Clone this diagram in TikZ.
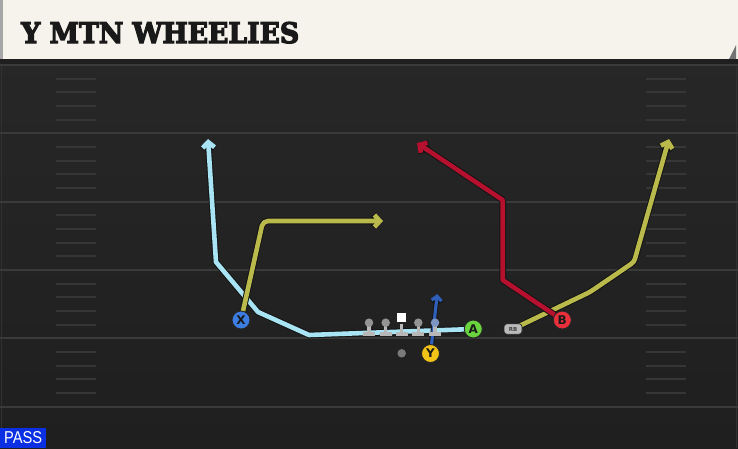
\documentclass[tikz,border=0pt]{standalone}
\usepackage{fontspec}
\setmainfont{Liberation Sans}
\newfontfamily\titlefont{DejaVu Serif}[BoldFeatures={FakeBold=4.5}]
\newfontfamily\plfont{DejaVu Sans}
\usetikzlibrary{arrows.meta}
\definecolor{bgtop}{HTML}{282828}
\definecolor{bgbot}{HTML}{1F1F1F}
\definecolor{banner}{HTML}{F5F3EC}
\definecolor{yardc}{HTML}{3A3A3A}
\definecolor{hashc}{HTML}{363636}
\definecolor{ltblue}{HTML}{A8E4F4}
\definecolor{olive}{HTML}{B9B94C}
\definecolor{crimson}{HTML}{B5102E}
\definecolor{dkblue}{HTML}{2F5FB8}
\definecolor{pblue}{HTML}{3B7DE0}
\definecolor{pgreen}{HTML}{6AD43F}
\definecolor{pyellow}{HTML}{F3C316}
\definecolor{pred}{HTML}{E8303A}
\definecolor{passblue}{HTML}{0B30E4}
\definecolor{bluehead}{HTML}{7D96C3}
\definecolor{edgec}{HTML}{313131}
\tikzset{
  yard/.style={draw=yardc, line width=2pt},
  hashm/.style={draw=hashc, line width=2pt},
  outl/.style={draw=black!92, line width=6.6pt, line join=round, line cap=round},
  routec/.style={draw=#1, line width=4.6pt, line join=round, line cap=round},
  tipped/.style={-{Straight Barb[length=5.5pt,width=12pt]}},
  player/.style={circle, minimum size=18pt, inner sep=0pt, draw=black!85, line width=0.9pt, fill=#1, font=\plfont\bfseries\fontsize{12}{12}\selectfont, text=black!90},
  linehead/.style={circle, minimum size=8.5pt, inner sep=0pt, fill=#1},
  linebar/.style={fill=black!28},
}
\begin{document}
\begin{tikzpicture}[x=1pt,y=-1pt]
\useasboundingbox (0,0) rectangle (738,448);
\shade[top color=bgtop, bottom color=bgbot] (0,0) rectangle (738,448);
% banner
\fill[banner] (0,0) rectangle (738,59);
\fill[black!35] (0,0) rectangle (3,59);
\fill[black!55] (729,59) -- (736,45) -- (736,59) -- cycle;
\fill[black!88] (0,59) rectangle (738,64);
\node[anchor=base west, inner sep=0pt] (title) at (21,43) {\resizebox{278pt}{21pt}{\titlefont\bfseries\color{black!90}Y MTN WHEELIES}};
% side edges
\draw[draw=edgec, line width=1pt] (1.5,64) -- (1.5,448);
\draw[draw=edgec, line width=1pt] (736.5,64) -- (736.5,448);
% yard lines
\foreach \y in {65,133.3,201.6,270,338.3,406.6}
  \draw[yard] (0,\y) -- (738,\y);
% hash marks
\foreach \b in {65,133.3,201.6,270,338.3}
  \foreach \k in {1,2,3,4} {
    \draw[hashm] (56,{\b+\k*13.66}) -- (96,{\b+\k*13.66});
    \draw[hashm] (646,{\b+\k*13.66}) -- (686,{\b+\k*13.66});
  }
% player anchors
\coordinate (pX) at (241,320);
\coordinate (pA) at (473.3,329);
\coordinate (pY) at (430.5,353.5);
\coordinate (pB) at (562.3,320);
\coordinate (pRB) at (513,329);
% route waypoints
\coordinate (a1) at (309,335);
\coordinate (a2) at (258,312);
\coordinate (a3) at (216,262);
\coordinate (a4) at (208,139);
\coordinate (x1) at (263,221);
\coordinate (x2) at (383,221);
\coordinate (b1) at (502.7,280);
\coordinate (b2) at (502.7,200);
\coordinate (b3) at (417,143);
\coordinate (r1) at (590,292);
\coordinate (r2) at (634,262);
\coordinate (r3) at (669,139);
\coordinate (y1) at (437.3,294);
% routes: outline then colour
\draw[outl, tipped] (pA) -- (a1) -- (a2) -- (a3) -- (a4);
\draw[routec=ltblue, tipped] (pA) -- (a1) -- (a2) -- (a3) -- (a4);
\draw[outl, tipped, rounded corners=5pt] (pX) -- (x1) -- (x2);
\draw[routec=olive, tipped, rounded corners=5pt] (pX) -- (x1) -- (x2);
\draw[outl, tipped, rounded corners=3pt] (pRB) -- (r1) -- (r2) -- (r3);
\draw[routec=olive, tipped, rounded corners=3pt] (pRB) -- (r1) -- (r2) -- (r3);
\draw[outl, tipped] (pB) -- (b1) -- (b2) -- (b3);
\draw[routec=crimson, tipped] (pB) -- (b1) -- (b2) -- (b3);
\draw[outl, line width=5pt, -{Straight Barb[length=4.5pt,width=10pt]}] (pY) -- (y1);
\draw[routec=dkblue, line width=3.2pt, -{Straight Barb[length=4.5pt,width=10pt]}] (pY) -- (y1);
% linemen
\foreach \cx in {369, 385.7, 401.7, 418.3, 435} {
  \fill[black!28] ({\cx-1.7},324) rectangle ({\cx+1.7},332);
  \fill[linebar] ({\cx-6},331.5) rectangle ({\cx+6},335.5);
}
\foreach \cx/\nm in {369/ol1, 385.7/ol2, 418.3/ol4}
  \node[linehead=black!42] (\nm) at (\cx,322.7) {};
\node[linehead=bluehead] (ol5) at (435,322.7) {};
\node[fill=white, minimum size=9pt, inner sep=0pt] (ol3) at (401.7,317.8) {};
% QB dot
\node[circle, fill=black!52, minimum size=8.5pt, inner sep=0pt] (qb) at (401.7,353.3) {};
% players
\node[player=pblue] (X) at (pX) {X};
\node[player=pgreen] (A) at (pA) {A};
\node[player=pyellow] (Y) at (pY) {Y};
\node[player=pred] (B) at (pB) {B};
\node[rounded corners=3pt, fill=black!27, draw=black!85, line width=0.7pt, minimum width=18pt, minimum height=10.5pt, inner sep=0pt, font=\plfont\bfseries\fontsize{5.5}{5.5}\selectfont, text=black!75] (RB) at (pRB) {RB};
% pass label
\node[fill=passblue, anchor=south west, minimum width=46pt, minimum height=20pt, inner sep=0pt] (pass) at (0,448) {\resizebox{38pt}{12pt}{\color{white}PASS}};
\end{tikzpicture}
\end{document}
